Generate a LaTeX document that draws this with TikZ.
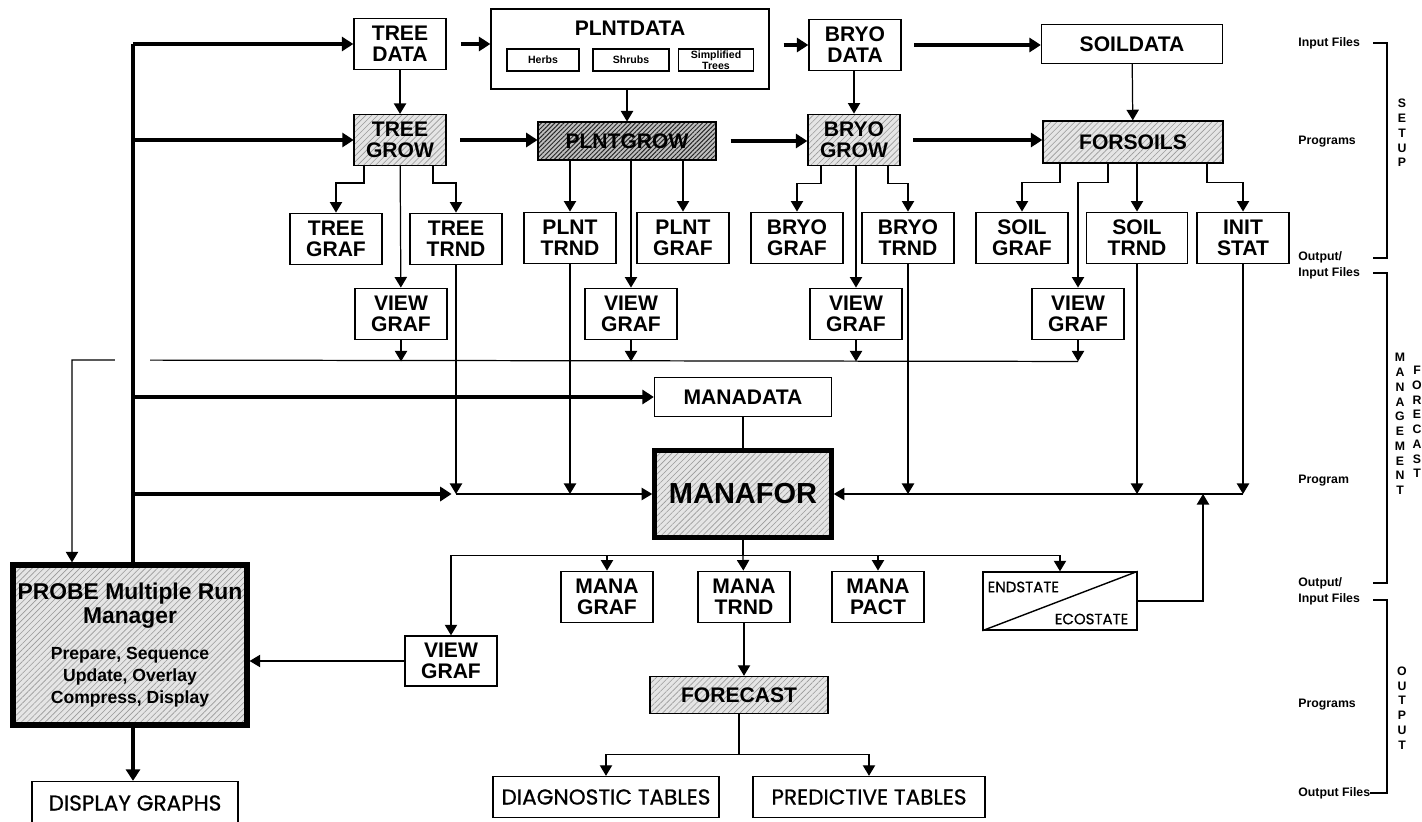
\documentclass[tikz,border=0pt]{standalone}
\usepackage{fontspec}
\setmainfont{Liberation Sans}
\newfontfamily\geo{Poppins}[FakeBold=0.7]
\newcommand{\pbig}{\fontsize{13}{14}\selectfont}
\usetikzlibrary{arrows.meta,calc,patterns.meta}

\begin{document}
\begin{tikzpicture}[x=0.02cm,y=-0.02cm,
  bx/.style={draw,line width=0.8pt,fill=white,inner sep=0pt,align=center,
    font=\fontsize{12}{12}\selectfont\bfseries},
  sm/.style={bx,minimum width=1.84cm,minimum height=1.03cm},
  wd/.style={bx,minimum width=3.56cm,minimum height=0.78cm},
  tb/.style={bx,minimum height=0.82cm,font=\geo\fontsize{12.3}{13}\selectfont},
  inb/.style={draw,line width=0.6pt,inner sep=0pt,minimum height=0.44cm,align=center,
    font=\fontsize{6}{6.5}\selectfont\bfseries},
  hat/.style={preaction={fill=gray!20},
    pattern={Lines[angle=45,distance=2.4pt,line width=0.35pt]},pattern color=gray!80},
  dk/.style={preaction={fill=gray!50},
    pattern={Lines[angle=45,distance=1.8pt,line width=0.55pt]},pattern color=black!85},
  a/.style={-{Triangle[length=6pt,width=7pt]},line width=0.7pt},
  ta/.style={-{Triangle[length=6.5pt,width=8pt]},line width=2.6pt},
  lab/.style={anchor=west,align=left,inner sep=0pt,font=\fontsize{7}{9}\selectfont\bfseries},
  vl/.style={align=center,inner sep=0pt,font=\fontsize{7}{8.4}\selectfont\bfseries}]
\useasboundingbox (0,0) rectangle (1422,821);

% setup row
\node[sm] (tdata) at (400,44) {TREE\\DATA};
\node[sm,hat] (tgrow) at (400,140) {TREE\\GROW};
\node[sm] (tgraf) at (336,239) {TREE\\GRAF};
\node[sm] (ttrnd) at (456,239) {TREE\\TRND};
\node[sm] (tview) at (401,314) {VIEW\\GRAF};
\node[bx,minimum width=5.56cm,minimum height=1.6cm] (pdata) at (630,49) {};
\node[inner sep=0pt,font=\fontsize{12}{12}\selectfont\bfseries] (ptitle) at (630,28) {PLNTDATA};
\node[inb,minimum width=1.44cm] (herbs) at (543,60) {Herbs};
\node[inb,minimum width=1.52cm] (shrubs) at (631,60) {Shrubs};
\node[inb,minimum width=1.5cm] (simp) at (716,60) {Simplified\\Trees};
\node[wd,dk,minimum height=0.76cm] (pgrow) at (627,141) {PLNTGROW};
\node[sm] (ptrnd) at (570,238) {PLNT\\TRND};
\node[sm] (pgraf) at (683,238) {PLNT\\GRAF};
\node[sm] (pview) at (631,314) {VIEW\\GRAF};
\node[sm] (bdata) at (855,45) {BRYO\\DATA};
\node[sm,hat] (bgrow) at (854,140) {BRYO\\GROW};
\node[sm] (bgraf) at (797,238) {BRYO\\GRAF};
\node[sm] (btrnd) at (908,238) {BRYO\\TRND};
\node[sm] (bview) at (856,314) {VIEW\\GRAF};
\node[wd,minimum width=3.62cm] (sdata) at (1132,44) {SOILDATA};
\node[wd,hat,minimum width=3.6cm,minimum height=0.84cm] (fsoil) at (1133,142) {FORSOILS};
\node[sm] (sgraf) at (1022,238) {SOIL\\GRAF};
\node[sm,minimum width=2.02cm] (strnd) at (1137,238) {SOIL\\TRND};
\node[sm] (istat) at (1243,238) {INIT\\STAT};
\node[sm] (sview) at (1078,314) {VIEW\\GRAF};

% management forecast
\node[wd,minimum width=3.54cm] (mdata) at (743,397) {MANADATA};
\node[bx,hat,line width=2.6pt,minimum width=3.54cm,minimum height=1.74cm,
  font=\fontsize{16.5}{17}\selectfont\bfseries] (mfor) at (743,494) {MANAFOR};
\node[sm] (mgraf) at (607,597) {MANA\\GRAF};
\node[sm] (mtrnd) at (744,597) {MANA\\TRND};
\node[sm] (mpact) at (878,597) {MANA\\PACT};
\node[bx,minimum width=3.08cm,minimum height=1.16cm] (estate) at (1060,601) {};
\draw[line width=0.8pt] (estate.south west) -- (estate.north east);
\node[anchor=north west,inner sep=0pt,font=\geo\fontsize{8.5}{9}\selectfont] (endl)
  at ($(estate.north west)+(5,10)$) {ENDSTATE};
\node[anchor=south east,inner sep=0pt,font=\geo\fontsize{8.5}{9}\selectfont] (ecol)
  at ($(estate.south east)+(-9,-6)$) {ECOSTATE};

% output
\node[wd,hat,minimum height=0.74cm] (fcast) at (739,695) {FORECAST};
\node[tb,minimum width=4.52cm] (diag) at (606,797) {DIAGNOSTIC TABLES};
\node[tb,minimum width=4.64cm] (pred) at (869,797) {PREDICTIVE TABLES};
\node[sm,minimum height=1cm] (mview) at (451,661) {VIEW\\GRAF};
\node[bx,hat,line width=3pt,minimum width=4.68cm,minimum height=3.2cm,
  font=\fontsize{10}{12.5}\selectfont\bfseries] (probe) at (130,645)
  {\pbig PROBE Multiple Run\\[1.5pt]\pbig Manager\\[8pt]
   Prepare, Sequence\\Update, Overlay\\Compress, Display};
\node[tb,minimum width=4.12cm,minimum height=0.86cm] (disp) at (135,803) {DISPLAY GRAPHS};

% helper points
\coordinate (top) at (133,44);
\coordinate (jv) at ($(sview.south)+(0,21)$);
\coordinate (jp) at (72,360);
\coordinate (jl) at (ttrnd |- mfor.west);
\coordinate (jr) at (istat |- mfor.west);
\coordinate (ju) at ($(jr)+(-40,0)$);
\coordinate (jb) at ($(mfor.south)+(0,16)$);
\coordinate (jf) at ($(fcast.south)+(0,40)$);

% data -> grow -> outputs
\draw[a] (tdata) -- (tgrow);
\draw[a] (pdata.south -| pgrow) -- (pgrow);
\draw[a] (bdata.south -| bgrow) -- (bgrow);
\draw[a] (sdata) -- (fsoil);
\draw[a] ($(tgrow.south)+(-36,0)$) -- ++(0,17) -| (tgraf);
\draw[a] (tgrow) -- (tview);
\draw[a] ($(tgrow.south)+(33,0)$) -- ++(0,17) -| (ttrnd);
\draw[a] (pgrow.south -| ptrnd) -- (ptrnd);
\draw[a] (pgrow.south -| pview) -- (pview);
\draw[a] (pgrow.south -| pgraf) -- (pgraf);
\draw[a] ($(bgrow.south)+(-33,0)$) -- ++(0,17) -| (bgraf);
\draw[a] (bgrow.south -| bview) -- (bview);
\draw[a] ($(bgrow.south)+(34,0)$) -- ++(0,17) -| (btrnd);
\draw[a] ($(fsoil.south)+(-73,0)$) -- ++(0,19) -| (sgraf);
\draw[a] ($(fsoil.south)+(-25,0)$) -- ++(0,19) -| (sview);
\draw[a] (fsoil.south -| strnd) -- (strnd);
\draw[a] ($(fsoil.south)+(74,0)$) -- ++(0,19) -| (istat);

% view graf bus to PROBE
\draw[a] (tview) -- (tview |- jv);
\draw[a] (pview) -- (pview |- jv);
\draw[a] (bview) -- (bview |- jv);
\draw[a] (sview) -- (jv);
\draw[a] (jv) -- (jp) -- (jp |- probe.north);
\draw[white,line width=3pt] (115,360) -- (150,360);

% trends into MANAFOR
\draw[a] (ttrnd) -- (jl);
\draw[a] (ptrnd) -- (ptrnd |- jl);
\draw[a] (jl) -- (mfor);
\draw[a] (btrnd) -- (btrnd |- jr);
\draw[a] (strnd) -- (strnd |- jr);
\draw[a] (istat) -- (jr);
\draw[a] (jr) -- (mfor);
\draw[a] (estate) -| (ju);
\draw[line width=0.7pt] (mdata) -- (mfor);

% thick run-manager lines
\draw[line width=2.6pt] (top) -- (probe.north -| top);
\draw[ta] (top) -- (tdata);
\draw[ta] (top |- tgrow) -- (tgrow);
\draw[ta] (top |- mdata) -- (mdata);
\draw[ta,shorten >=2.5pt] (top |- jl) -- (jl);
\draw[ta,shorten <=8pt] (tdata.east) -- (tdata.east -| pdata.west);
\draw[ta,shorten <=8pt] (pdata.east |- bdata) -- (bdata);
\draw[ta,shorten <=7pt] (bdata) -- (bdata -| sdata.west);
\draw[ta,shorten <=8pt] (tgrow) -- (tgrow -| pgrow.west);
\draw[ta,shorten <=8pt] (pgrow) -- (pgrow -| bgrow.west);
\draw[ta,shorten <=7pt] (bgrow) -- (bgrow -| fsoil.west);
\draw[ta] (probe.south -| top) -- (disp.north -| top);

% MANAFOR outputs
\draw[line width=0.7pt] (mfor) -- (jb);
\draw[a] (jb) -- (mtrnd);
\draw[a] (jb) -| (mgraf);
\draw[a] (jb) -| (mpact);
\draw[a] (jb) -| (estate);
\draw[a] (jb) -| (mview);
\draw[a] (mview) -- (mview -| probe.east);
\draw[a] (mtrnd) -- (mtrnd |- fcast.north);
\draw[line width=0.7pt] (fcast) -- (jf);
\draw[a] (jf) -| (diag);
\draw[a] (jf) -| (pred);

% stage labels
\node[lab] (l1) at (1298,43) {Input Files};
\node[lab] (l2) at (1298,142) {Programs};
\node[lab] (l3) at (1298,265) {Output/\\Input Files};
\node[lab] (l4) at (1298,481) {Program};
\node[lab] (l5) at (1298,591) {Output/\\Input Files};
\node[lab] (l6) at (1298,705) {Programs};
\node[lab] (l7) at (1298,793) {Output Files};
\draw[line width=0.6pt] (1373,43) -| (1387,258) -- (1373,258);
\draw[line width=0.6pt] (1373,273) -| (1387,583) -- (1373,583);
\draw[line width=0.6pt] (1373,600) -| (1387,793) -- (1370,793);
\node[vl] (setup) at (1402,133) {S\\E\\T\\U\\P};
\node[vl] (mgmt) at (1400,424) {M\\A\\N\\A\\G\\E\\M\\E\\N\\T};
\node[vl] (fore) at (1417,422) {F\\O\\R\\E\\C\\A\\S\\T};
\node[vl] (outp) at (1402,708) {O\\U\\T\\P\\U\\T};
\end{tikzpicture}
\end{document}
